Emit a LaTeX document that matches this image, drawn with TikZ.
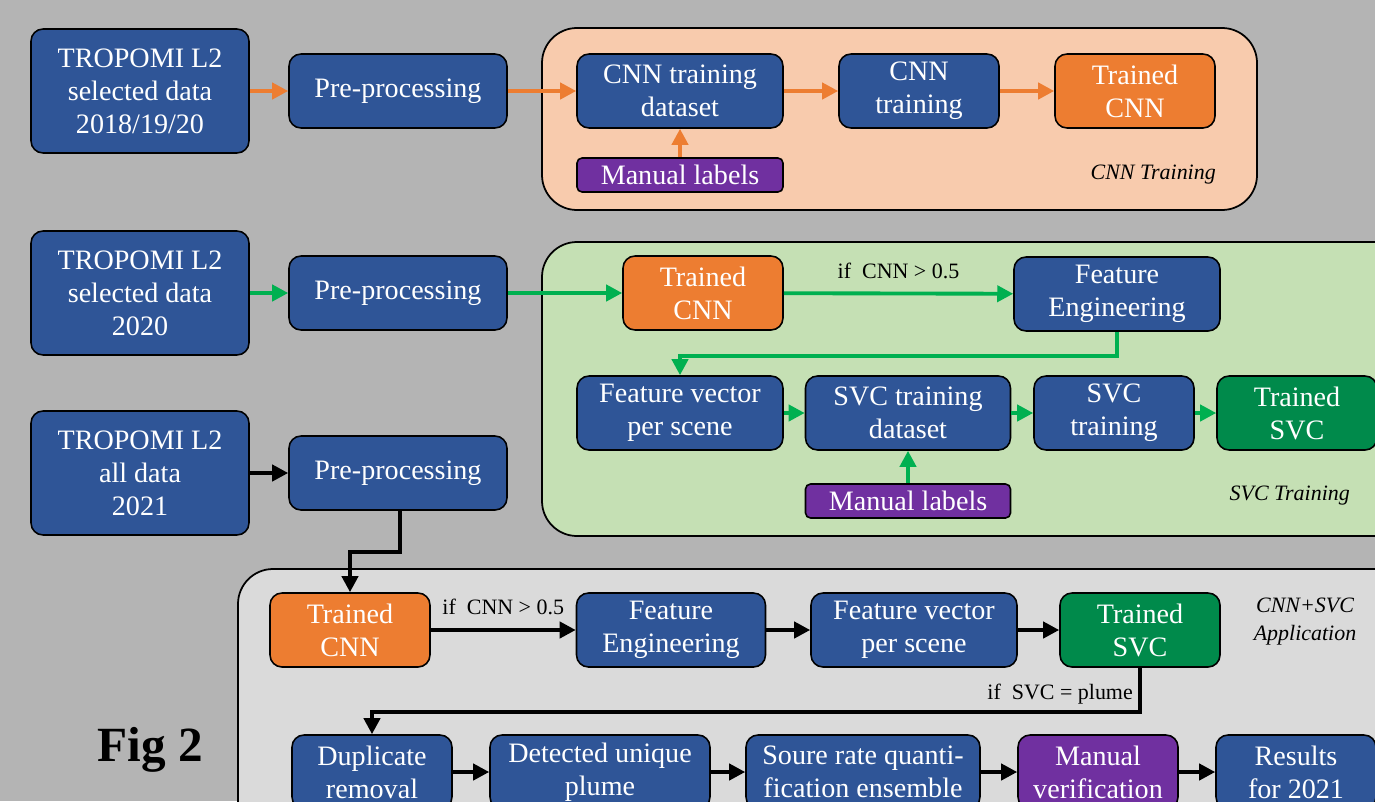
\documentclass[tikz,border=0pt]{standalone}
\usepackage{fontspec}
\setmainfont{Liberation Serif}
\usetikzlibrary{arrows.meta}
\usetikzlibrary{calc}

\definecolor{bggray}{RGB}{180,180,180}
\definecolor{boxblue}{RGB}{47,85,151}
\definecolor{boxorange}{RGB}{237,125,49}
\definecolor{boxpurple}{RGB}{112,48,160}
\definecolor{boxgreen}{RGB}{0,138,75}
\definecolor{peach}{RGB}{248,203,173}
\definecolor{palegreen}{RGB}{197,224,180}
\definecolor{palegray}{RGB}{218,218,218}
\definecolor{arrowgreen}{RGB}{0,176,80}

\begin{document}
\begin{tikzpicture}[x=0.02cm, y=-0.02cm]

		\tikzstyle{box}  = [rectangle, rounded corners=0.24cm, draw=black, line width=0.9pt, fill=boxblue, text=white, align=center, inner sep=0pt, minimum height=1.48cm, font=\fontsize{16}{18.8}\selectfont]
		\tikzstyle{group} = [draw=black, line width=1pt, rounded corners=0.7cm]
		\tikzstyle{flow} = [line width=2.2pt, -{Triangle[length=0.32cm, width=0.32cm]}]
		\tikzstyle{cond} = [font=\fontsize{12.5}{15}\selectfont, text=black]
		\tikzstyle{title} = [font=\fontsize{12.5}{16}\selectfont\itshape, align=center, text=black]

		\useasboundingbox (0,0) rectangle (1375,801);
		\clip (0,0) rectangle (1375,801);
		\fill[bggray] (0,0) rectangle (1375,801);

		%%Groups for CNN training, SVC training and application
		\draw[group, fill=peach] (542,28) rectangle (1257,210);
		\draw[group, fill=palegreen] (542,242) rectangle (1420,536);
		\draw[group, fill=palegray] (238,569) rectangle (1420,860);
		\node[title, anchor=east] (cnntitle) at (1222,175) {CNN Training};
		\node[title, anchor=east] (svctitle) at (1356,496) {SVC Training};
		\node[title] (apptitle) at (1305,622) {CNN+SVC\\Application};

		%%Row 1
		\node[box, minimum width=4.36cm, minimum height=2.48cm](trop1) at (140,91) {TROPOMI L2\\selected data\\2018/19/20};
		\node[box, minimum width=4.36cm](pre1) at (398,91) {Pre-processing};
		\node[box, minimum width=4.12cm](cnnds) at (680,91) {CNN training\\dataset};
		\node[box, minimum width=3.2cm](cnntr) at (919,91) {CNN\\training};
		\node[box, minimum width=3.2cm, fill=boxorange](trcnnA) at (1135,91) {Trained\\CNN};
		\node[box, minimum width=4.12cm, minimum height=0.68cm, rounded corners=0.1cm, fill=boxpurple](labelsA) at (680,175) {Manual labels};

		%%Row 2
		\node[box, minimum width=4.36cm, minimum height=2.48cm](trop2) at (140,293) {TROPOMI L2\\selected data\\2020};
		\node[box, minimum width=4.36cm](pre2) at (398,293) {Pre-processing};
		\node[box, minimum width=3.2cm, fill=boxorange](trcnnB) at (703,293) {Trained\\CNN};
		\node[box, minimum width=4.12cm](featA) at (1117,294) {Feature\\Engineering};
		\node[box, minimum width=4.12cm](fvecA) at (680,413) {Feature vector\\per scene};
		\node[box, minimum width=4.1cm](svcds) at (908,413) {SVC training\\dataset};
		\node[box, minimum width=3.2cm](svctr) at (1114,413) {SVC\\training};
		\node[box, minimum width=3.2cm, fill=boxgreen](trsvcA) at (1297,413) {Trained\\SVC};
		\node[box, minimum width=4.1cm, minimum height=0.68cm, rounded corners=0.1cm, fill=boxpurple](labelsB) at (908,501) {Manual labels};

		%%Row 3
		\node[box, minimum width=4.36cm, minimum height=2.48cm](trop3) at (140,473) {TROPOMI L2\\all data\\2021};
		\node[box, minimum width=4.36cm](pre3) at (398,473) {Pre-processing};
		\node[box, minimum width=3.2cm, fill=boxorange](trcnnC) at (350,630) {Trained\\CNN};
		\node[box, minimum width=3.78cm](featB) at (671,630) {Feature\\Engineering};
		\node[box, minimum width=4.12cm](fvecB) at (914,630) {Feature vector\\per scene};
		\node[box, minimum width=3.2cm, fill=boxgreen](trsvcB) at (1140,630) {Trained\\SVC};
		\node[box, minimum width=3.2cm](dup) at (372,772) {Duplicate\\removal};
		\node[box, minimum width=4.4cm](plume) at (600,772) {Detected unique\\plume};
		\node[box, minimum width=4.68cm](quant) at (863,772) {Soure rate quanti-\\fication ensemble};
		\node[box, minimum width=3.2cm, fill=boxpurple](verif) at (1098,772) {Manual\\verification};
		\node[box, minimum width=3.2cm](results) at (1296,772) {Results\\for 2021};

		\node[font=\fontsize{28}{30}\selectfont\bfseries] (fig) at (150,750) {Fig 2};

		%%Connectors
		\draw[flow, boxorange] (trop1)--(pre1);
		\draw[flow, boxorange] (pre1)--(cnnds);
		\draw[flow, boxorange] (cnnds)--(cnntr);
		\draw[flow, boxorange] (cnntr)--(trcnnA);
		\draw[flow, boxorange] (labelsA)--(cnnds);

		\draw[flow, arrowgreen] (trop2)--(pre2);
		\draw[flow, arrowgreen] (pre2)--(trcnnB);
		\draw[flow, arrowgreen] (trcnnB)--node[cond, above, yshift=4pt]{if\ \ CNN > 0.5}(featA);
		\draw[flow, arrowgreen] (featA.south)--++(0,24)-|(fvecA.north);
		\draw[flow, arrowgreen] (fvecA)--(svcds);
		\draw[flow, arrowgreen] (svcds)--(svctr);
		\draw[flow, arrowgreen] (svctr)--(trsvcA);
		\draw[flow, arrowgreen] (labelsB)--(svcds);

		\draw[flow] (trop3)--(pre3);
		\draw[flow] ($(pre3.south)+(2,0)$)--++(0,41)-|(trcnnC.north);
		\draw[flow] (trcnnC)--node[cond, above, yshift=4pt]{if\ \ CNN > 0.5}(featB);
		\draw[flow] (featB)--(fvecB);
		\draw[flow] (fvecB)--(trsvcB);
		\draw[flow] (trsvcB.south)--++(0,44) node[cond, above left, inner sep=3pt]{if\ \ SVC = plume} -|(dup.north);
		\draw[flow] (dup)--(plume);
		\draw[flow] (plume)--(quant);
		\draw[flow] (quant)--(verif);
		\draw[flow] (verif)--(results);
	\end{tikzpicture}
\end{document}
